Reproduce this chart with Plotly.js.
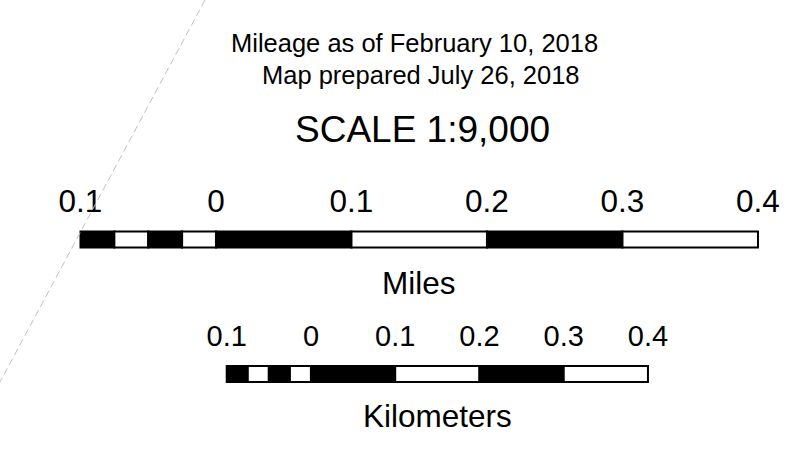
<!DOCTYPE html>
<html>
<head>
<meta charset="utf-8">
<script src="https://cdn.plot.ly/plotly-3.0.1.min.js"></script>
<style>html,body{margin:0;padding:0;background:#fff;}#chart{width:797px;height:461px;}</style>
</head>
<body>
<div id="chart"></div>
<script>
// Scale-bar data
var titleLines = ["Mileage as of February 10, 2018", "Map prepared July 26, 2018"];
var scaleText = "SCALE 1:9,000";
var mileBreaks = [-0.1, -0.075, -0.05, -0.025, 0, 0.1, 0.2, 0.3, 0.4];
var kmBreaks = [-0.1, -0.075, -0.05, -0.025, 0, 0.1, 0.2, 0.3, 0.4];
var segColors = ["black", "white", "black", "white", "black", "white", "black", "white"];
var tickValues = [-0.1, 0, 0.1, 0.2, 0.3, 0.4];
var tickLabels = ["0.1", "0", "0.1", "0.2", "0.3", "0.4"];
var unitLabels = ["Miles", "Kilometers"];

var FONT = "Liberation Sans, Arial, sans-serif";

function segs(breaks) {
  var base = [], len = [];
  for (var i = 0; i < breaks.length - 1; i++) {
    base.push(breaks[i]);
    len.push(breaks[i + 1] - breaks[i]);
  }
  return {base: base, len: len};
}
var ms = segs(mileBreaks), ks = segs(kmBreaks);

var yMileBar = 239.5, yKmBar = 374;

var traces = [
  {type: "bar", orientation: "h", xaxis: "x", yaxis: "y",
   base: ms.base, x: ms.len, y: ms.base.map(function(){return yMileBar;}),
   width: 16, marker: {color: segColors, line: {color: "black", width: 2}}, hoverinfo: "skip"},
  {type: "bar", orientation: "h", xaxis: "x2", yaxis: "y",
   base: ks.base, x: ks.len, y: ks.base.map(function(){return yKmBar;}),
   width: 16, marker: {color: segColors, line: {color: "black", width: 2}}, hoverinfo: "skip"},
  {type: "scatter", mode: "text", xaxis: "x", yaxis: "y",
   x: tickValues, y: tickValues.map(function(){return 204;}), text: tickLabels,
   textfont: {family: FONT, size: 31.5, color: "black"}, hoverinfo: "skip"},
  {type: "scatter", mode: "text", xaxis: "x2", yaxis: "y",
   x: tickValues, y: tickValues.map(function(){return 339;}), text: tickLabels,
   textfont: {family: FONT, size: 29, color: "black"}, hoverinfo: "skip"}
];

var layout = {
  width: 797, height: 461,
  margin: {l: 0, r: 0, t: 0, b: 0, pad: 0},
  paper_bgcolor: "white", plot_bgcolor: "white",
  showlegend: false, barmode: "overlay",
  xaxis: {range: [-0.1594, 0.4288], visible: false, fixedrange: true},
  xaxis2: {range: [-0.3691, 0.5769], visible: false, overlaying: "x", fixedrange: true},
  yaxis: {range: [461, 0], visible: false, fixedrange: true},
  shapes: [
    {type: "line", xref: "paper", yref: "paper", x0: 205/797, y0: 1, x1: 0, y1: (461-382)/461,
     line: {color: "#c0c0c0", width: 1, dash: "7px,4px"}}
  ],
  annotations: [
    {text: titleLines[0], xref: "x", yref: "y", x: (414.5-216)/1355, y: 43, showarrow: false,
     xanchor: "center", yanchor: "middle", font: {family: FONT, size: 25.5, color: "black"}},
    {text: titleLines[1], xref: "x", yref: "y", x: (421.5-216)/1355, y: 75, showarrow: false,
     xanchor: "center", yanchor: "middle", font: {family: FONT, size: 25.5, color: "black"}},
    {text: scaleText, xref: "x", yref: "y", x: (422.5-216)/1355, y: 129, showarrow: false,
     xanchor: "center", yanchor: "middle", font: {family: FONT, size: 37, color: "black"}},
    {text: unitLabels[0], xref: "x", yref: "y", x: (419-216)/1355, y: 283, showarrow: false,
     xanchor: "center", yanchor: "middle", font: {family: FONT, size: 31.5, color: "black"}},
    {text: unitLabels[1], xref: "x", yref: "y", x: (437.5-216)/1355, y: 416, showarrow: false,
     xanchor: "center", yanchor: "middle", font: {family: FONT, size: 31.5, color: "black"}}
  ]
};

Plotly.newPlot("chart", traces, layout, {displayModeBar: false, staticPlot: true});
</script>
</body>
</html>
